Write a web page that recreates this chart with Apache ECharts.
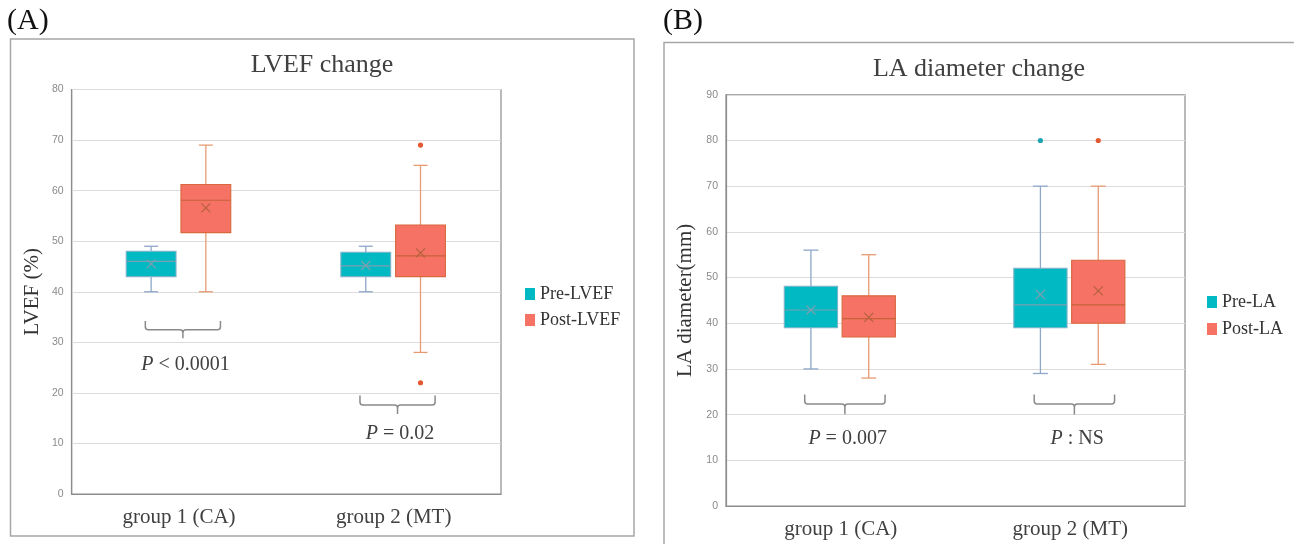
<!DOCTYPE html>
<html><head><meta charset="utf-8">
<script src="https://cdn.jsdelivr.net/npm/echarts@6/dist/echarts.min.js"></script>
<style>html,body{margin:0;padding:0;background:#fff}#c{width:1294px;height:544px}</style>
</head><body><div id="c"></div>
<script>
// ---- data ----
const categories = ['group 1 (CA)', 'group 2 (MT)'];
// each row: [min, Q1, median, Q3, max, mean]
const preLVEF  = [[40, 43, 46.0, 48.0, 49, 45.5], [40, 43, 45.1, 47.8, 49, 45.2]];
const postLVEF = [[40, 51.7, 58.1, 61.2, 69, 56.6], [28, 43, 47.1, 53.2, 65, 47.7]];
const outPreLVEF  = [];
const outPostLVEF = [[1, 69], [1, 22]];
const preLA  = [[30, 39, 42.9, 48.1, 56, 42.9], [29, 39, 44, 52.0, 70, 46.3]];
const postLA = [[28, 37, 41.0, 46.0, 55, 41.3], [31, 40, 44, 53.8, 70, 47.1]];
const outPreLA  = [[1, 80]];
const outPostLA = [[1, 80]];
// brackets: [category, top, bottom, tip]
const bracketsA = [[0, 34.2, 32.5, 30.8], [1, 19.5, 17.6, 15.8]];
const bracketsB = [[0, 24.4, 22.3, 20.1], [1, 24.4, 22.3, 20.0]];
// p labels: [category, y]
const pPosA = [[0, 25.6], [1, 11.9]];
const pRestA = [' < 0.0001', ' = 0.02'];
const pPosB = [[0, 14.8], [1, 14.8]];
const pRestB = [' = 0.007', ' : NS'];

const SERIF = 'Liberation Serif';
const preCol  = {fill:'#00B9C3', border:'#7DB3C9', whisker:'#8EA7C9', median:'#7C9EB3', mean:'#7D9FAF', dot:'#1DA5B6'};
const postCol = {fill:'#F57265', border:'#D8683E', whisker:'#E69B74', median:'#C6623A', mean:'#B4613E', dot:'#E2582F'};

function boxSeries(name, rows, gi, off, col) {
  return {
    type:'custom', name, xAxisIndex:gi, yAxisIndex:gi,
    data: rows.map((d,i)=>[i, ...d]),
    encode:{x:0, y:[1,2,3,4,5,6]},
    itemStyle:{color:col.fill},
    renderItem:(params, api) => {
      const cat = api.value(0);
      const band = api.size([1,0])[0];
      const cx = api.coord([cat,0])[0] + off*band;
      const w = 0.232*band, cw = w*0.28;
      const Y = k => api.coord([cat, api.value(k)])[1];
      const yMin=Y(1), yQ1=Y(2), yMed=Y(3), yQ3=Y(4), yMax=Y(5), yMean=Y(6);
      const ws = {stroke:col.whisker, lineWidth:1.3};
      const m = 4.5;
      return {type:'group', children:[
        {type:'line', shape:{x1:cx,y1:yQ3,x2:cx,y2:yMax}, style:ws},
        {type:'line', shape:{x1:cx,y1:yQ1,x2:cx,y2:yMin}, style:ws},
        {type:'line', shape:{x1:cx-cw/2,y1:yMax,x2:cx+cw/2,y2:yMax}, style:ws},
        {type:'line', shape:{x1:cx-cw/2,y1:yMin,x2:cx+cw/2,y2:yMin}, style:ws},
        {type:'rect', shape:{x:cx-w/2,y:yQ3,width:w,height:yQ1-yQ3}, style:{fill:col.fill, stroke:col.border, lineWidth:1.1}},
        {type:'line', shape:{x1:cx-w/2,y1:yMed,x2:cx+w/2,y2:yMed}, style:{stroke:col.median, lineWidth:1.2}},
        {type:'line', shape:{x1:cx-m,y1:yMean-m,x2:cx+m,y2:yMean+m}, style:{stroke:col.mean, lineWidth:1.2}},
        {type:'line', shape:{x1:cx-m,y1:yMean+m,x2:cx+m,y2:yMean-m}, style:{stroke:col.mean, lineWidth:1.2}}
      ]};
    }
  };
}
function outlierSeries(name, pts, gi, off, col) {
  return {
    type:'custom', name, xAxisIndex:gi, yAxisIndex:gi, data:pts, encode:{x:0,y:1},
    itemStyle:{color:col.fill},
    renderItem:(params, api) => {
      const cat = api.value(0);
      const band = api.size([1,0])[0];
      const p = api.coord([cat, api.value(1)]);
      return {type:'circle', shape:{cx:p[0]+off*band, cy:p[1], r:2.6}, style:{fill:col.dot}};
    }
  };
}
function bracketSeries(rows, gi) {
  return {
    type:'custom', xAxisIndex:gi, yAxisIndex:gi, data:rows, encode:{x:0,y:[1,2,3]}, silent:true,
    renderItem:(params, api) => {
      const cat = api.value(0);
      const band = api.size([1,0])[0];
      const cx = api.coord([cat,0])[0] + 0.018*band;
      const hw = 0.175*band;
      const yT = api.coord([cat, api.value(1)])[1], yB = api.coord([cat, api.value(2)])[1], yTip = api.coord([cat, api.value(3)])[1];
      const r = 3, L = cx-hw, R = cx+hw;
      const d = `M${L} ${yT} L${L} ${yB-r} Q${L} ${yB} ${L+r} ${yB} L${cx-r} ${yB} Q${cx} ${yB} ${cx} ${yB+r} L${cx} ${yTip} M${cx} ${yB+r} Q${cx} ${yB} ${cx+r} ${yB} L${R-r} ${yB} Q${R} ${yB} ${R} ${yB-r} L${R} ${yT}`;
      return {type:'path', shape:{pathData:d}, style:{stroke:'#8a8a8a', fill:'none', lineWidth:1.5}};
    }
  };
}
function pTextSeries(pos, rest, gi) {
  return {
    type:'custom', xAxisIndex:gi, yAxisIndex:gi, data:pos, encode:{x:0,y:1}, silent:true,
    renderItem:(params, api) => {
      const cat = api.value(0);
      const band = api.size([1,0])[0];
      const p = api.coord([cat, api.value(1)]);
      const base = {fontFamily:SERIF, fontSize:20, fill:'#404040'};
      return {type:'text', x:p[0]+0.03*band, y:p[1], style:{
        text:'{i|P}{n|' + rest[params.dataIndex] + '}',
        rich:{i:Object.assign({fontStyle:'italic'}, base), n:base},
        fontFamily:SERIF, fontSize:20, fill:'#404040', align:'center', verticalAlign:'middle'}};
    }
  };
}

function xAx(gi, margin) {
  return {gridIndex:gi, type:'category', data:categories,
    axisTick:{show:false}, axisLine:{lineStyle:{color:'#8c8c8c', width:1.2}},
    axisLabel:{fontFamily:SERIF, fontSize:21, color:'#404040', margin}};
}
function yAx(gi, max, name, gap) {
  return {gridIndex:gi, type:'value', min:0, max, interval:10, name, nameLocation:'middle', nameGap:gap, nameRotate:90,
    nameTextStyle:{fontFamily:SERIF, fontSize:21, color:'#333'},
    axisLine:{show:true, lineStyle:{color:'#8c8c8c', width:1.2}}, axisTick:{show:false},
    axisLabel:{fontFamily:'Liberation Sans', fontSize:10.5, color:'#8a8a8a', margin:8},
    splitLine:{lineStyle:{color:'#dcdcdc', width:1}}};
}
function legend(names, left, top, gap) {
  return {orient:'vertical', left, top, itemWidth:10, itemHeight:12, itemGap:gap, icon:'rect',
    selectedMode:false,
    textStyle:{fontFamily:SERIF, fontSize:18, color:'#333', lineHeight:18},
    data:[{name:names[0], itemStyle:{color:preCol.fill}}, {name:names[1], itemStyle:{color:postCol.fill}}]};
}

const chart = echarts.init(document.getElementById('c'), null, {renderer:'canvas'});
chart.setOption({
  animation:false,
  backgroundColor:'#fff',
  grid:[
    {left:71.7, top:89.5, width:429.3, height:404.5, show:true, borderColor:'#8c8c8c', borderWidth:1.2},
    {left:726, top:94.8, width:459, height:411.2, show:true, borderColor:'#8c8c8c', borderWidth:1.2}
  ],
  xAxis:[xAx(0, 13), xAx(1, 13)],
  yAxis:[yAx(0, 80, 'LVEF (%)', 29), yAx(1, 90, 'LA diameter(mm)', 30)],
  legend:[legend(['Pre-LVEF','Post-LVEF'], 520, 280, 8), legend(['Pre-LA','Post-LA'], 1202, 288, 9)],
  graphic:[
    {type:'rect', shape:{x:10.5, y:39, width:623.5, height:497}, style:{fill:'none', stroke:'#a6a6a6', lineWidth:1.5}},
    {type:'rect', shape:{x:664, y:42.4, width:650, height:520}, style:{fill:'none', stroke:'#a6a6a6', lineWidth:1.5}},
    {type:'text', x:7, y:21, style:{text:'(A)', fontFamily:SERIF, fontSize:30, fill:'#111', align:'left', verticalAlign:'middle'}},
    {type:'text', x:663, y:21, style:{text:'(B)', fontFamily:SERIF, fontSize:30, fill:'#111', align:'left', verticalAlign:'middle'}},
    {type:'text', x:322, y:65, style:{text:'LVEF change', fontFamily:SERIF, fontSize:26, fill:'#404040', align:'center', verticalAlign:'middle'}},
    {type:'text', x:979, y:69, style:{text:'LA diameter change', fontFamily:SERIF, fontSize:26, fill:'#404040', align:'center', verticalAlign:'middle'}}
  ],
  series:[
    boxSeries('Pre-LVEF', preLVEF, 0, -0.13, preCol),
    boxSeries('Post-LVEF', postLVEF, 0, 0.125, postCol),
    outlierSeries('Pre-LVEF', outPreLVEF, 0, -0.13, preCol),
    outlierSeries('Post-LVEF', outPostLVEF, 0, 0.125, postCol),
    bracketSeries(bracketsA, 0),
    pTextSeries(pPosA, pRestA, 0),
    boxSeries('Pre-LA', preLA, 1, -0.13, preCol),
    boxSeries('Post-LA', postLA, 1, 0.122, postCol),
    outlierSeries('Pre-LA', outPreLA, 1, -0.13, preCol),
    outlierSeries('Post-LA', outPostLA, 1, 0.122, postCol),
    bracketSeries(bracketsB, 1),
    pTextSeries(pPosB, pRestB, 1)
  ]
});
</script></body></html>
